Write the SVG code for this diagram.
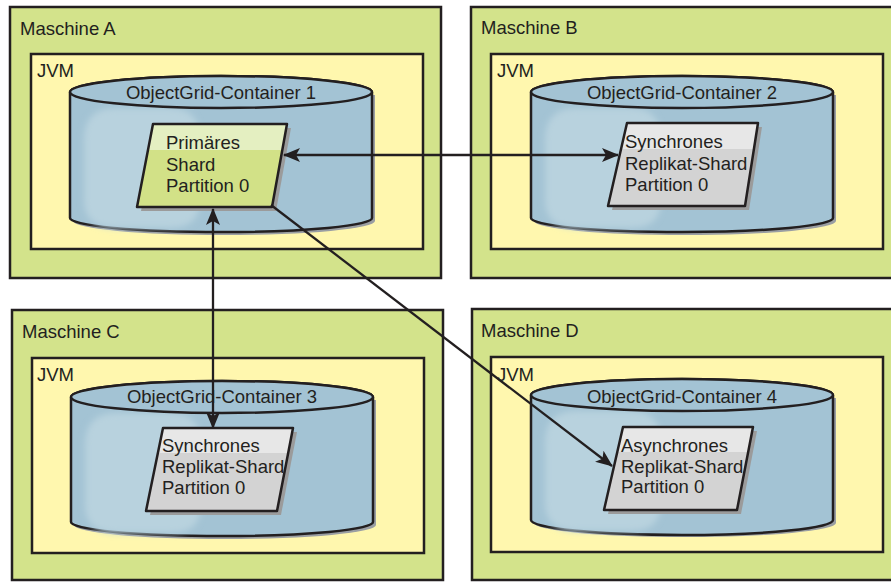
<svg xmlns="http://www.w3.org/2000/svg" width="891" height="582" viewBox="0 0 891 582">
<style>
text{font-family:"Liberation Sans",Arial,sans-serif;font-size:18.5px;fill:#231f20}
.mach{fill:#d3e38b;stroke:#231f20;stroke-width:2.5}
.jvm{fill:#fff7ae;stroke:#231f20;stroke-width:2.5}
.cyl{fill:#a3c3d4;stroke:#231f20;stroke-width:2.5}
.cylsh{fill:#9a9ea3}
.hl{fill:#b8d2de;filter:url(#soft)}
.shsh{fill:#9b9b9b}
.shg{fill:#d2e187}
.bandg{fill:#e4efc1}
.shy{fill:#d3d3d3}
.bandy{fill:#e7e7e7}
.shout{fill:none;stroke:#231f20;stroke-width:2.5;stroke-linejoin:round}
.conn{fill:none;stroke:#231f20;stroke-width:2.3}
</style>
<defs>
<filter id="soft" x="-20%" y="-20%" width="140%" height="140%"><feGaussianBlur stdDeviation="3"/></filter>
<marker id="ah" viewBox="0 0 17 14" markerUnits="userSpaceOnUse" markerWidth="17" markerHeight="14" refX="16" refY="7" orient="auto-start-reverse">
<path d="M0,0 L17,7 L0,14 L4,7 z" fill="#231f20"/>
</marker>
</defs>

<g id="maschine-a">
<rect class="mach" x="10" y="7" width="431" height="271"/>
<text x="20" y="35">Maschine A</text>
</g>
<g id="jvm-a">
<rect class="jvm" x="31" y="54" width="392" height="195"/>
<text x="37" y="77">JVM</text>
</g>
<g id="container-1">
<path class="cylsh" d="M73,95 L73,221 A151,14 0 0 0 375,221 L375,95 z"/>
<path class="cyl" d="M70,92 L70,218 A151,14 0 0 0 372,218 L372,92 A151,16 0 0 0 70,92 z"/>
<path class="hl" d="M84,140 Q84,108 116,108 L170,108 Q200,108 200,140 L200,200 Q200,228 170,228 L116,228 Q84,228 84,200 z"/>
<ellipse cx="221" cy="92" rx="151" ry="16" fill="#a3c3d4" stroke="#231f20" stroke-width="2.5"/>
<text x="221" y="99" text-anchor="middle">ObjectGrid-Container 1</text>
</g>
<g id="shard-a">
<polygon class="shsh" points="157,128 291,128 276,211 141,211"/>
<polygon class="shg" points="153,124 287,124 272,207 137,207"/>
<polygon class="bandg" points="153,124 287,124 282,150 148,150"/>
<polygon class="shout" points="153,124 287,124 272,207 137,207"/>
<text x="166" y="149">Primäres</text>
<text x="166" y="171">Shard</text>
<text x="166" y="192">Partition 0</text>
</g>

<g id="maschine-b">
<rect class="mach" x="471" y="7" width="430" height="271"/>
<text x="481" y="34">Maschine B</text>
</g>
<g id="jvm-b">
<rect class="jvm" x="491" y="54" width="392" height="195"/>
<text x="497" y="77">JVM</text>
</g>
<g id="container-2">
<path class="cylsh" d="M534,95 L534,221 A151,14 0 0 0 836,221 L836,95 z"/>
<path class="cyl" d="M531,92 L531,218 A151,14 0 0 0 833,218 L833,92 A151,16 0 0 0 531,92 z"/>
<path class="hl" d="M545,140 Q545,108 577,108 L631,108 Q661,108 661,140 L661,200 Q661,228 631,228 L577,228 Q545,228 545,200 z"/>
<ellipse cx="682" cy="92" rx="151" ry="16" fill="#a3c3d4" stroke="#231f20" stroke-width="2.5"/>
<text x="682" y="99" text-anchor="middle">ObjectGrid-Container 2</text>
</g>
<g id="shard-b">
<polygon class="shsh" points="631,127 762,127 749,210 612,210"/>
<polygon class="shy" points="627,123 758,123 745,206 608,206"/>
<polygon class="bandy" points="627,123 758,123 753,149 622,149"/>
<polygon class="shout" points="627,123 758,123 745,206 608,206"/>
<text x="625" y="148">Synchrones</text>
<text x="625" y="170">Replikat-Shard</text>
<text x="625" y="191">Partition 0</text>
</g>

<g id="maschine-c">
<rect class="mach" x="12" y="310" width="431" height="270"/>
<text x="22" y="338">Maschine C</text>
</g>
<g id="jvm-c">
<rect class="jvm" x="32" y="358" width="392" height="195"/>
<text x="37" y="381">JVM</text>
</g>
<g id="container-3">
<path class="cylsh" d="M74,400 L74,525 A151,14 0 0 0 376,525 L376,400 z"/>
<path class="cyl" d="M71,397 L71,522 A151,14 0 0 0 373,522 L373,397 A151,16 0 0 0 71,397 z"/>
<path class="hl" d="M85,445 Q85,413 117,413 L171,413 Q201,413 201,445 L201,505 Q201,533 171,533 L117,533 Q85,533 85,505 z"/>
<ellipse cx="222" cy="397" rx="151" ry="16" fill="#a3c3d4" stroke="#231f20" stroke-width="2.5"/>
<text x="222" y="403" text-anchor="middle">ObjectGrid-Container 3</text>
</g>
<g id="shard-c">
<polygon class="shsh" points="167,432 297,432 281,515 150,515"/>
<polygon class="shy" points="163,428 293,428 277,511 146,511"/>
<polygon class="bandy" points="163,428 293,428 288,453 158,453"/>
<polygon class="shout" points="163,428 293,428 277,511 146,511"/>
<text x="162" y="452">Synchrones</text>
<text x="162" y="473">Replikat-Shard</text>
<text x="162" y="494">Partition 0</text>
</g>

<g id="maschine-d">
<rect class="mach" x="472" y="309" width="429" height="271"/>
<text x="481" y="337">Maschine D</text>
</g>
<g id="jvm-d">
<rect class="jvm" x="491" y="357" width="392" height="195"/>
<text x="497" y="381">JVM</text>
</g>
<g id="container-4">
<path class="cylsh" d="M534,398 L534,523 A151,14 0 0 0 836,523 L836,398 z"/>
<path class="cyl" d="M531,395 L531,520 A151,15 0 0 0 833,520 L833,395 A151,16 0 0 0 531,395 z"/>
<path class="hl" d="M545,443 Q545,411 577,411 L631,411 Q661,411 661,443 L661,503 Q661,531 631,531 L577,531 Q545,531 545,503 z"/>
<ellipse cx="682" cy="395" rx="151" ry="16" fill="#a3c3d4" stroke="#231f20" stroke-width="2.5"/>
<text x="682" y="403" text-anchor="middle">ObjectGrid-Container 4</text>
</g>
<g id="shard-d">
<polygon class="shsh" points="627,431 757,431 741,514 608,514"/>
<polygon class="shy" points="623,427 753,427 737,510 604,510"/>
<polygon class="bandy" points="623,427 753,427 748,452 618,452"/>
<polygon class="shout" points="623,427 753,427 737,510 604,510"/>
<text x="621" y="452">Asynchrones</text>
<text x="621" y="473">Replikat-Shard</text>
<text x="621" y="493">Partition 0</text>
</g>

<g id="connectors">
<line class="conn" x1="284" y1="155" x2="618" y2="155" marker-start="url(#ah)" marker-end="url(#ah)"/>
<line class="conn" x1="213" y1="209" x2="213" y2="428" marker-start="url(#ah)" marker-end="url(#ah)"/>
<line class="conn" x1="271" y1="205" x2="612" y2="466" marker-end="url(#ah)"/>
</g>
</svg>
